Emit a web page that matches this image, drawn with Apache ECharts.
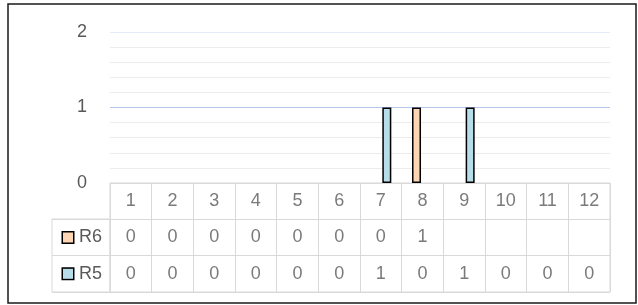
<!DOCTYPE html>
<html>
<head>
<meta charset="utf-8">
<script src="https://cdn.jsdelivr.net/npm/echarts@6/dist/echarts.min.js"></script>
<style>
    html, body { margin: 0; padding: 0; background: #fff; }
    #chart { width: 638px; height: 305px; }
</style>
</head>
<body>
<div id="chart"></div>
<script>
    // data
    var categories = ['1', '2', '3', '4', '5', '6', '7', '8', '9', '10', '11', '12'];
    var r6 = [0, 0, 0, 0, 0, 0, 0, 1, null, null, null, null];
    var r5 = [0, 0, 0, 0, 0, 0, 1, 0, 1, 0, 0, 0];
    var tableRows = ['', 'R6', 'R5'];
    var yTicks = [0, 1, 2];

    var textColor = '#595959',
        lineColor = '#d9d9d9',
        r6Color = '#fcd5b5',
        r5Color = '#b7dde8',
        font = 'Liberation Sans',
        fontSize = 18;

    // cells of the data table, placed through the table grid's category axes
    var cells = [];
    for (let i = 0; i < categories.length; i++) {
        cells.push([i, 0, categories[i]]);
        if (r6[i] !== null) cells.push([i, 1, String(r6[i])]);
        if (r5[i] !== null) cells.push([i, 2, String(r5[i])]);
    }

    // zero bars get no outline, so they leave no mark on the axis
    function barData(arr) {
        return arr.map(function (v) {
            return v === 0 ? { value: 0, itemStyle: { borderWidth: 0 } } : v;
        });
    }

    var chart = echarts.init(document.getElementById('chart'));
    chart.setOption({
        animation: false,
        textStyle: { fontFamily: font },
        graphic: [{
            type: 'rect',
            shape: { x: 8, y: 4, width: 628, height: 299 },
            style: { fill: 'none', stroke: '#1a1a1a', lineWidth: 1.5 },
            silent: true
        }],
        grid: [
            { left: 110, right: 28, top: 32, height: 151 },
            { left: 110, right: 28, top: 183, height: 109, show: true, borderColor: lineColor, borderWidth: 1 },
            { left: 52, width: 58, top: 219, height: 73, show: true, borderColor: lineColor, borderWidth: 1 }
        ],
        xAxis: [
            {
                gridIndex: 0, type: 'category', data: categories,
                axisLine: { show: false }, axisTick: { show: false }, axisLabel: { show: false }
            },
            {
                gridIndex: 1, type: 'category', data: categories,
                axisLine: { show: false }, axisTick: { show: false }, axisLabel: { show: false },
                splitLine: { show: true, lineStyle: { color: lineColor, width: 1 } }
            },
            {
                gridIndex: 2, type: 'value', show: false
            }
        ],
        yAxis: [
            {
                gridIndex: 0, type: 'value', min: yTicks[0], max: yTicks[yTicks.length - 1], interval: 1,
                axisLine: { show: false }, axisTick: { show: false },
                axisLabel: { color: textColor, fontSize: fontSize, margin: 23, fontFamily: font },
                splitLine: { showMinLine: false, showMaxLine: false, lineStyle: { color: '#b4c7e7', width: 1 } },
                minorTick: { show: false, splitNumber: 5 },
                minorSplitLine: { show: true, lineStyle: { color: '#ececec', width: 1 } }
            },
            {
                gridIndex: 1, type: 'category', data: tableRows, inverse: true,
                axisLine: { show: false }, axisTick: { show: false },
                splitLine: { show: true, lineStyle: { color: lineColor, width: 1 } },
                axisLabel: {
                    margin: 8,
                    color: textColor,
                    fontSize: fontSize,
                    fontFamily: font,
                    formatter: function (v) {
                        if (v === 'R6') return '{s6|}{t|R6}';
                        if (v === 'R5') return '{s5|}{t|R5}';
                        return '';
                    },
                    rich: {
                        s6: { width: 10, height: 10, backgroundColor: r6Color, borderColor: '#000', borderWidth: 1.5 },
                        s5: { width: 10, height: 10, backgroundColor: r5Color, borderColor: '#000', borderWidth: 1.5 },
                        t: { color: textColor, fontSize: fontSize, fontFamily: font, padding: [0, 0, 0, 6] }
                    }
                }
            },
            {
                gridIndex: 2, type: 'value', min: 0, max: 2, interval: 1,
                axisLine: { show: false }, axisTick: { show: false }, axisLabel: { show: false },
                splitLine: { show: true, lineStyle: { color: lineColor, width: 1 } }
            }
        ],
        series: [
            {
                name: 'R6', type: 'bar', xAxisIndex: 0, yAxisIndex: 0,
                data: barData(r6), barWidth: 9, barGap: '33%',
                itemStyle: { color: r6Color, borderColor: '#000', borderWidth: 1.5 },
                markLine: {
                    silent: true, symbol: 'none', label: { show: false },
                    lineStyle: { color: '#e4ebf6', width: 1, type: 'solid' },
                    data: [{ yAxis: yTicks[2] }]
                }
            },
            {
                name: 'R5', type: 'bar', xAxisIndex: 0, yAxisIndex: 0,
                data: barData(r5), barWidth: 9, barGap: '33%',
                itemStyle: { color: r5Color, borderColor: '#000', borderWidth: 1.5 }
            },
            {
                type: 'scatter', xAxisIndex: 1, yAxisIndex: 1,
                data: cells, symbolSize: 0, silent: true,
                label: {
                    show: true, position: 'inside',
                    color: textColor, fontSize: fontSize, fontFamily: font,
                    formatter: function (p) { return p.value[2]; }
                }
            }
        ]
    });
</script>
</body>
</html>
